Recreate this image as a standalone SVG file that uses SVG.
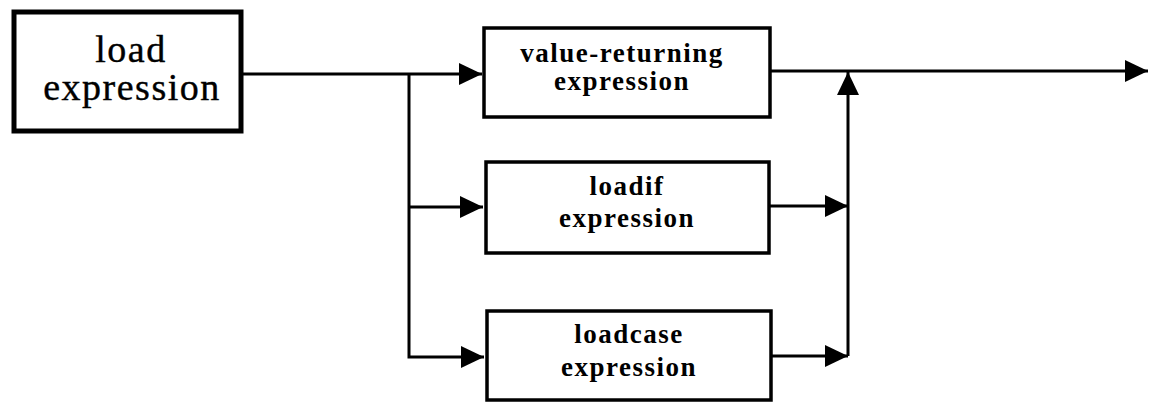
<svg xmlns="http://www.w3.org/2000/svg" width="1156" height="402" viewBox="0 0 1156 402">
<style>
.box{fill:#fff;stroke:#000;stroke-width:3.5}
.big{fill:#fff;stroke:#000;stroke-width:5}
.t{font-family:"Liberation Serif","Times New Roman",serif;font-weight:bold;font-size:27px;letter-spacing:1.5px;text-anchor:middle;fill:#000}
.tb{font-family:"Liberation Serif","Times New Roman",serif;font-size:38px;letter-spacing:1.5px;text-anchor:middle;fill:#000;stroke:#000;stroke-width:0.4}
.c{fill:none;stroke:#000;stroke-width:3}
</style>
<defs>
<marker id="ah" markerUnits="userSpaceOnUse" markerWidth="24" markerHeight="22" refX="23" refY="11" orient="auto">
<path d="M0,0 L23,11 L0,22 z" fill="#000"/>
</marker>
</defs>
<g id="connectors">
<path class="c" d="M243,74 H482" marker-end="url(#ah)"/>
<path class="c" d="M409,74 V357 H484" marker-end="url(#ah)"/>
<path class="c" d="M409,207 H483" marker-end="url(#ah)"/>
<path class="c" d="M770,71 H1148" marker-end="url(#ah)"/>
<path class="c" d="M769,206 H848" marker-end="url(#ah)"/>
<path class="c" d="M772,356 H848" marker-end="url(#ah)"/>
<path class="c" d="M848,356 V72" marker-end="url(#ah)"/>
</g>
<g id="load">
<rect class="big" x="14" y="12" width="227" height="119"/>
<text class="tb" x="131" y="62">load</text>
<text class="tb" x="132" y="100">expression</text>
</g>
<g id="value-returning">
<rect class="box" x="484" y="28" width="286" height="89"/>
<text class="t" x="622" y="62">value-returning</text>
<text class="t" x="622" y="90">expression</text>
</g>
<g id="loadif">
<rect class="box" x="486" y="162" width="283" height="91"/>
<text class="t" x="627" y="195">loadif</text>
<text class="t" x="627" y="227">expression</text>
</g>
<g id="loadcase">
<rect class="box" x="487" y="311" width="284" height="89"/>
<text class="t" x="629" y="343">loadcase</text>
<text class="t" x="629" y="376">expression</text>
</g>
</svg>
